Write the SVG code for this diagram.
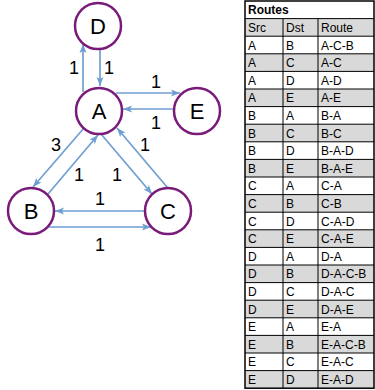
<svg xmlns="http://www.w3.org/2000/svg" width="375" height="390" viewBox="0 0 375 390">
<style>
.node circle{fill:#fff;stroke:#7a1a7a;stroke-width:2.5}
.node text{font-family:"Liberation Sans",Arial,sans-serif;font-size:22px;fill:#000;text-anchor:middle}
.edge{stroke:#6f9fd0;stroke-width:1.7;fill:none;marker-end:url(#arr)}
.lbl{font-family:"Liberation Sans",Arial,sans-serif;font-size:18px;fill:#000;text-anchor:middle}
.t{font-family:"Liberation Sans",Arial,sans-serif;font-size:12px;fill:#000}
.g{fill:#d9d9d9}
.ln{stroke:#000;stroke-width:1}
</style>
<defs>
<marker id="arr" markerWidth="10" markerHeight="8" refX="9" refY="4" orient="auto" markerUnits="userSpaceOnUse">
<path d="M0,0.5 L9,4 L0,7.5 L2,4 z" fill="#6f9fd0"/>
</marker>
</defs>
<rect width="375" height="390" fill="#fff"/>
<g id="connectors">
<line class="edge" x1="83" y1="92" x2="83" y2="44"/>
<line class="edge" x1="100" y1="50" x2="100" y2="86"/>
<line class="edge" x1="116" y1="93" x2="180" y2="93"/>
<line class="edge" x1="173" y1="109" x2="123" y2="109"/>
<line class="edge" x1="84" y1="128" x2="33" y2="187"/>
<line class="edge" x1="48" y1="194" x2="98" y2="135"/>
<line class="edge" x1="101" y1="134" x2="152" y2="194"/>
<line class="edge" x1="167" y1="187" x2="117" y2="128"/>
<line class="edge" x1="144" y1="211" x2="55" y2="211"/>
<line class="edge" x1="49" y1="227" x2="151" y2="227"/>
<text class="lbl" x="74" y="74">1</text>
<text class="lbl" x="109" y="74">1</text>
<text class="lbl" x="156" y="88">1</text>
<text class="lbl" x="156" y="129">1</text>
<text class="lbl" x="56" y="151">3</text>
<text class="lbl" x="79" y="181">1</text>
<text class="lbl" x="117" y="181">1</text>
<text class="lbl" x="145" y="151">1</text>
<text class="lbl" x="100" y="205">1</text>
<text class="lbl" x="100" y="251">1</text>
</g>
<g id="node-D" class="node"><circle cx="98" cy="26" r="23"/><text x="98" y="34">D</text></g>
<g id="node-A" class="node"><circle cx="99" cy="111" r="23"/><text x="99" y="119">A</text></g>
<g id="node-E" class="node"><circle cx="197" cy="111" r="23"/><text x="197" y="119">E</text></g>
<g id="node-B" class="node"><circle cx="31" cy="211" r="23"/><text x="31" y="219">B</text></g>
<g id="node-C" class="node"><circle cx="168" cy="211" r="23"/><text x="168" y="219">C</text></g>
<g id="routes-table">
<rect class="g" x="245" y="18.6" width="129" height="17.6"/>
<rect class="g" x="245" y="53.8" width="129" height="17.6"/>
<rect class="g" x="245" y="89" width="129" height="17.6"/>
<rect class="g" x="245" y="124.2" width="129" height="17.6"/>
<rect class="g" x="245" y="159.4" width="129" height="17.6"/>
<rect class="g" x="245" y="194.6" width="129" height="17.6"/>
<rect class="g" x="245" y="229.8" width="129" height="17.6"/>
<rect class="g" x="245" y="265" width="129" height="17.6"/>
<rect class="g" x="245" y="300.2" width="129" height="17.6"/>
<rect class="g" x="245" y="335.4" width="129" height="17.6"/>
<rect class="g" x="245" y="370.6" width="129" height="17.6"/>
<g class="ln">
<line x1="245" y1="18.6" x2="374" y2="18.6"/>
<line x1="245" y1="36.2" x2="374" y2="36.2"/>
<line x1="245" y1="53.8" x2="374" y2="53.8"/>
<line x1="245" y1="71.4" x2="374" y2="71.4"/>
<line x1="245" y1="89" x2="374" y2="89"/>
<line x1="245" y1="106.6" x2="374" y2="106.6"/>
<line x1="245" y1="124.2" x2="374" y2="124.2"/>
<line x1="245" y1="141.8" x2="374" y2="141.8"/>
<line x1="245" y1="159.4" x2="374" y2="159.4"/>
<line x1="245" y1="177" x2="374" y2="177"/>
<line x1="245" y1="194.6" x2="374" y2="194.6"/>
<line x1="245" y1="212.2" x2="374" y2="212.2"/>
<line x1="245" y1="229.8" x2="374" y2="229.8"/>
<line x1="245" y1="247.4" x2="374" y2="247.4"/>
<line x1="245" y1="265" x2="374" y2="265"/>
<line x1="245" y1="282.6" x2="374" y2="282.6"/>
<line x1="245" y1="300.2" x2="374" y2="300.2"/>
<line x1="245" y1="317.8" x2="374" y2="317.8"/>
<line x1="245" y1="335.4" x2="374" y2="335.4"/>
<line x1="245" y1="353" x2="374" y2="353"/>
<line x1="245" y1="370.6" x2="374" y2="370.6"/>
<line x1="283" y1="18.6" x2="283" y2="388.2"/>
<line x1="318" y1="18.6" x2="318" y2="388.2"/>
</g>
<rect x="245" y="1" width="129" height="387.2" fill="none" stroke="#000" stroke-width="1.5"/>
<text class="t" x="248" y="14" font-weight="bold">Routes</text>
<g class="t">
<text x="248" y="32">Src</text><text x="286" y="32">Dst</text><text x="321" y="32">Route</text>
<text x="248" y="49.5">A</text><text x="286" y="49.5">B</text><text x="321" y="49.5">A-C-B</text>
<text x="248" y="67.1">A</text><text x="286" y="67.1">C</text><text x="321" y="67.1">A-C</text>
<text x="248" y="84.7">A</text><text x="286" y="84.7">D</text><text x="321" y="84.7">A-D</text>
<text x="248" y="102.3">A</text><text x="286" y="102.3">E</text><text x="321" y="102.3">A-E</text>
<text x="248" y="119.9">B</text><text x="286" y="119.9">A</text><text x="321" y="119.9">B-A</text>
<text x="248" y="137.5">B</text><text x="286" y="137.5">C</text><text x="321" y="137.5">B-C</text>
<text x="248" y="155.1">B</text><text x="286" y="155.1">D</text><text x="321" y="155.1">B-A-D</text>
<text x="248" y="172.7">B</text><text x="286" y="172.7">E</text><text x="321" y="172.7">B-A-E</text>
<text x="248" y="190.3">C</text><text x="286" y="190.3">A</text><text x="321" y="190.3">C-A</text>
<text x="248" y="207.9">C</text><text x="286" y="207.9">B</text><text x="321" y="207.9">C-B</text>
<text x="248" y="225.5">C</text><text x="286" y="225.5">D</text><text x="321" y="225.5">C-A-D</text>
<text x="248" y="243.1">C</text><text x="286" y="243.1">E</text><text x="321" y="243.1">C-A-E</text>
<text x="248" y="260.7">D</text><text x="286" y="260.7">A</text><text x="321" y="260.7">D-A</text>
<text x="248" y="278.3">D</text><text x="286" y="278.3">B</text><text x="321" y="278.3">D-A-C-B</text>
<text x="248" y="295.9">D</text><text x="286" y="295.9">C</text><text x="321" y="295.9">D-A-C</text>
<text x="248" y="313.5">D</text><text x="286" y="313.5">E</text><text x="321" y="313.5">D-A-E</text>
<text x="248" y="331.1">E</text><text x="286" y="331.1">A</text><text x="321" y="331.1">E-A</text>
<text x="248" y="348.7">E</text><text x="286" y="348.7">B</text><text x="321" y="348.7">E-A-C-B</text>
<text x="248" y="366.3">E</text><text x="286" y="366.3">C</text><text x="321" y="366.3">E-A-C</text>
<text x="248" y="383.9">E</text><text x="286" y="383.9">D</text><text x="321" y="383.9">E-A-D</text>
</g>
</g>
</svg>
